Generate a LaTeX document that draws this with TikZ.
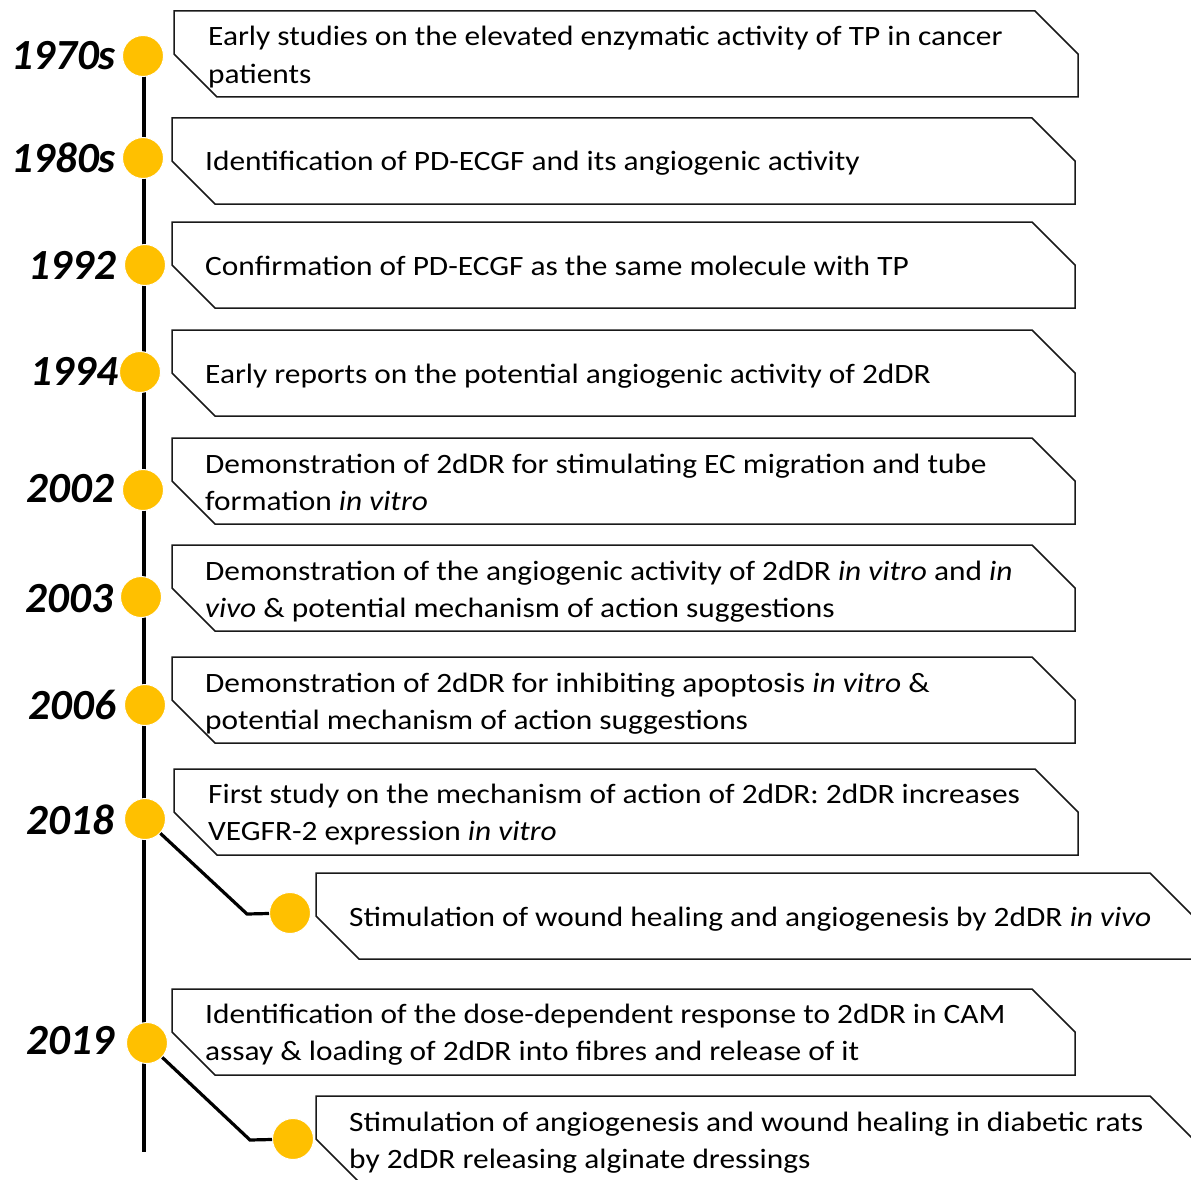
\documentclass[tikz,border=0pt]{standalone}
\usepackage{fontspec}
\setmainfont{Carlito}
\newfontfamily\bodyfont[FakeStretch=1.12]{Carlito}
\definecolor{gold}{HTML}{FFC000}
\tikzset{
 evbox/.style={draw=black!90, line width=1.5pt, fill=white},
 evtext/.style={anchor=base west, inner sep=0pt, font=\bodyfont\fontsize{28}{37.5}\selectfont},
 yr/.style={anchor=base east, inner sep=0pt, font=\fontsize{43}{43}\selectfont\bfseries\itshape},
 dot/.style={circle, fill=gold, draw=white, line width=1pt, minimum size=41pt, inner sep=0pt},
 tline/.style={line width=3.2pt, black},
}
\newcommand\evpoly[3]{\draw[evbox] (#1,#2) -- ({#3-43},#2) -- (#3,{#2+43}) -- (#3,{#2+86}) -- ({#1+43},{#2+86}) -- (#1,{#2+43}) -- cycle;}
\newcommand\tx[1]{\parbox[t]{1000pt}{\raggedright #1}}
\begin{document}
\begin{tikzpicture}[x=1pt,y=-1pt]
\useasboundingbox (0,0) rectangle (1191,1180);
\clip (0,0) rectangle (1191,1180);
% boxes
\evpoly{174}{11}{1078}
\evpoly{172}{118}{1075}
\evpoly{172}{222}{1075}
\evpoly{172}{330}{1075}
\evpoly{172}{438}{1075}
\evpoly{172}{545}{1075}
\evpoly{172}{657}{1075}
\evpoly{174}{769}{1078}
\evpoly{316}{873}{1193}
\evpoly{172}{989}{1075}
\evpoly{316}{1096}{1193}
% texts
\node[evtext] (t1) at (208,46) {\tx{Early studies on the elevated enzymatic activity of TP in cancer\\patients}};
\node[evtext] (t2) at (205,171) {\tx{Identification of PD-ECGF and its angiogenic activity}};
\node[evtext] (t3) at (205,275) {\tx{Confirmation of PD-ECGF as the same molecule with TP}};
\node[evtext] (t4) at (205,383) {\tx{Early reports on the potential angiogenic activity of 2dDR}};
\node[evtext] (t5) at (205,473) {\tx{Demonstration of 2dDR for stimulating EC migration and tube\\formation \textit{in vitro}}};
\node[evtext] (t6) at (205,580) {\tx{Demonstration of the angiogenic activity of 2dDR \textit{in vitro} and \textit{in}\\\textit{vivo} \& potential mechanism of action suggestions}};
\node[evtext] (t7) at (205,692) {\tx{Demonstration of 2dDR for inhibiting apoptosis \textit{in vitro} \&\\potential mechanism of action suggestions}};
\node[evtext] (t8) at (208,803) {\tx{First study on the mechanism of action of 2dDR: 2dDR increases\\VEGFR-2 expression \textit{in vitro}}};
\node[evtext] (t9) at (349,926) {\tx{Stimulation of wound healing and angiogenesis by 2dDR \textit{in vivo}}};
\node[evtext] (t10) at (205,1023) {\tx{Identification of the dose-dependent response to 2dDR in CAM\\assay \& loading of 2dDR into fibres and release of it}};
\node[evtext] (t11) at (349,1131) {\tx{Stimulation of angiogenesis and wound healing in diabetic rats\\by 2dDR releasing alginate dressings}};
% spine
\coordinate (ltop) at (144,56);
\coordinate (lbot) at (144,1152);
\draw[tline] (ltop) -- (lbot);
% dots
\node[dot] (c1) at (143,56) {};
\node[dot] (c2) at (143,158) {};
\node[dot] (c3) at (145,265) {};
\node[dot] (c4) at (140,372) {};
\node[dot] (c5) at (143,490) {};
\node[dot] (c6) at (141,597) {};
\node[dot] (c7) at (145,705) {};
\node[dot] (c8) at (145,819) {};
\node[dot] (b1) at (290,913) {};
\node[dot] (c9) at (147,1043) {};
\node[dot] (b2) at (293,1139) {};
% branches
\coordinate (k1) at (247,914);
\coordinate (k2) at (250,1140);
\draw[tline] (c8) -- (k1) -- (b1);
\draw[tline] (c9) -- (k2) -- (b2);
% years
\node[yr] (y1) at (116,70) {1970s};
\node[yr] (y2) at (116,172) {1980s};
\node[yr] (y3) at (116,279) {1992};
\node[yr] (y4) at (118,385) {1994};
\node[yr] (y5) at (114,502) {2002};
\node[yr] (y6) at (113,612) {2003};
\node[yr] (y7) at (116,719) {2006};
\node[yr] (y8) at (114,834) {2018};
\node[yr] (y9) at (114,1054) {2019};
\end{tikzpicture}
\end{document}
